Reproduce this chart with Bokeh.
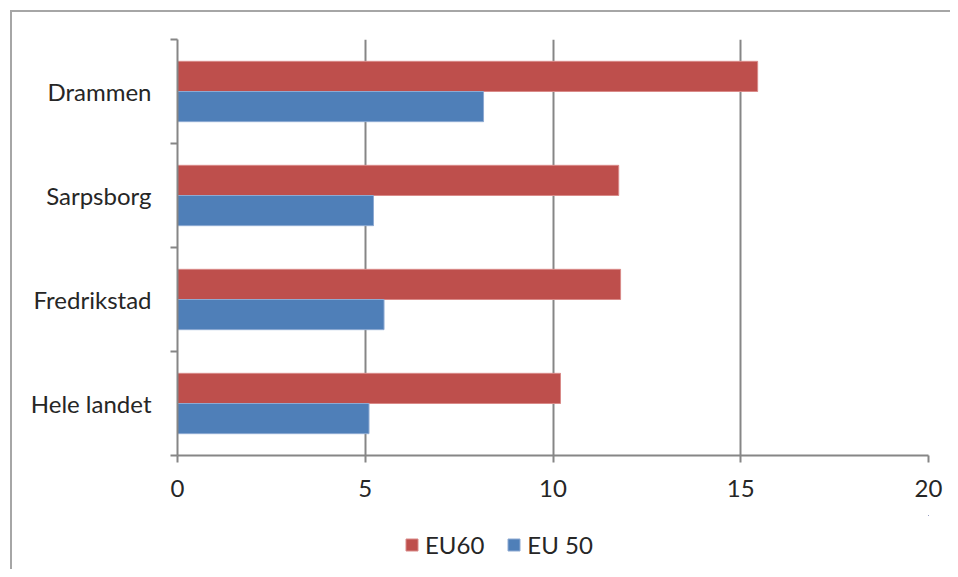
from bokeh.plotting import figure
from bokeh.layouts import column
from bokeh.models import FixedTicker, Range1d, Legend, LegendItem, ColumnDataSource
from bokeh.embed import file_html
from bokeh.resources import INLINE

categories = ["Hele landet", "Fredrikstad", "Sarpsborg", "Drammen"]
eu60 = [10.2, 11.8, 11.75, 15.45]
eu50 = [5.1, 5.5, 5.22, 8.15]
x_ticks = [0, 5, 10, 15, 20]
series_names = ["EU60", "EU 50"]
colors = ["#BE4F4C", "#4F7FB8"]
edge_colors = ["#D98A88", "#8EAAD2"]

FONT = "Lato"
AX = "#868686"
TXT = "#262626"
BAR_H = 0.29
W = 950

centers = [i + 0.5 for i in range(len(categories))]

p = figure(width=W, height=515, output_backend="svg", toolbar_location=None,
           x_range=Range1d(0, 20), y_range=Range1d(0, len(categories)),
           min_border_left=177, min_border_right=W - 928, min_border_top=39, min_border_bottom=60)
p.outline_line_color = None
p.background_fill_color = "white"
p.border_fill_color = None
p.styles = {"clip-path": "inset(0 5px 0 0)"}

src60 = ColumnDataSource(dict(y=[c + BAR_H / 2 for c in centers], right=eu60))
src50 = ColumnDataSource(dict(y=[c - BAR_H / 2 for c in centers], right=eu50))
p.hbar(y="y", right="right", left=0, height=BAR_H, source=src60,
       fill_color=colors[0], line_color=edge_colors[0], line_width=1)
p.hbar(y="y", right="right", left=0, height=BAR_H, source=src50,
       fill_color=colors[1], line_color=edge_colors[1], line_width=1)

# x axis
p.xaxis.ticker = FixedTicker(ticks=x_ticks)
p.xaxis.axis_line_color = AX
p.xaxis.axis_line_width = 2
p.xaxis.major_tick_line_color = AX
p.xaxis.major_tick_line_width = 2
p.xaxis.major_tick_out = 7
p.xaxis.major_tick_in = 0
p.xaxis.minor_tick_line_color = None
p.xaxis.major_label_text_font = FONT
p.xaxis.major_label_text_font_size = "24px"
p.xaxis.major_label_text_color = TXT
p.xaxis.major_label_standoff = 17

# y axis: labels at category centres, tick marks at category boundaries
p.yaxis.ticker = FixedTicker(ticks=centers, minor_ticks=list(range(len(categories) + 1)))
p.yaxis.major_label_overrides = {c: n for c, n in zip(centers, categories)}
p.yaxis.axis_line_color = AX
p.yaxis.axis_line_width = 2
p.yaxis.major_tick_line_color = None
p.yaxis.major_tick_out = 0
p.yaxis.major_tick_in = 0
p.yaxis.minor_tick_line_color = AX
p.yaxis.minor_tick_line_width = 2
p.yaxis.minor_tick_out = 7
p.yaxis.minor_tick_in = 0
p.yaxis.major_label_text_font = FONT
p.yaxis.major_label_text_font_size = "24px"
p.yaxis.major_label_text_color = TXT
p.yaxis.major_label_standoff = 19

p.xgrid.ticker = FixedTicker(ticks=x_ticks)
p.xgrid.grid_line_color = AX
p.xgrid.grid_line_width = 2
p.ygrid.grid_line_color = None

# legend strip (its renderers use the same data, but lie outside its ranges)
lg = figure(width=W, height=54, output_backend="svg", toolbar_location=None,
            x_range=Range1d(-2, -1), y_range=Range1d(-2, -1),
            min_border_left=0, min_border_right=0, min_border_top=0, min_border_bottom=0)
lg.axis.visible = False
lg.grid.grid_line_color = None
lg.outline_line_color = None
lg.background_fill_color = None
lg.border_fill_color = None
l60 = lg.hbar(y="y", right="right", left=0, height=BAR_H, source=src60,
              fill_color=colors[0], line_color=edge_colors[0])
l50 = lg.hbar(y="y", right="right", left=0, height=BAR_H, source=src50,
              fill_color=colors[1], line_color=edge_colors[1])
legend = Legend(items=[LegendItem(label=series_names[0], renderers=[l60], index=0),
                       LegendItem(label=series_names[1], renderers=[l50], index=0)],
                orientation="horizontal", location=(227, 10),
                glyph_width=15, glyph_height=15, label_standoff=6, spacing=22,
                padding=0, margin=0, border_line_color=None, background_fill_alpha=0,
                label_text_font=FONT, label_text_font_size="24px", label_text_color=TXT)
lg.add_layout(legend, "center")

layout = column(p, lg, spacing=0)
layout.styles = {
    "background": ("linear-gradient(#a6a6a6, #a6a6a6) 10px 10px / 100% 2px no-repeat, "
                   "linear-gradient(#a6a6a6, #a6a6a6) 10px 10px / 2px 100% no-repeat, white"),
}

open("out.html", "w").write(file_html(layout, INLINE))
